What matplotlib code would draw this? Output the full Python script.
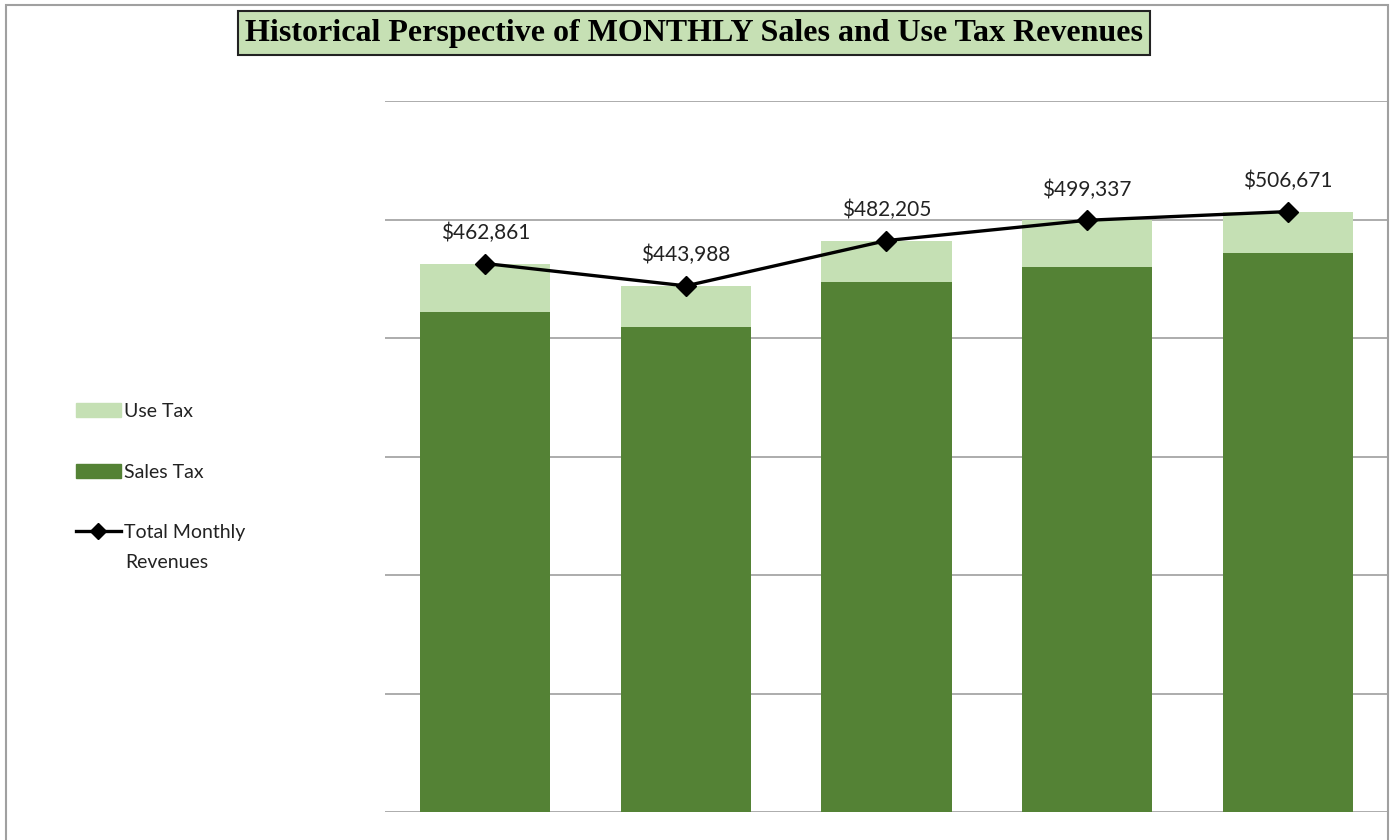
import matplotlib
matplotlib.use('Agg')
import matplotlib.pyplot as plt
from matplotlib.patches import Rectangle, Patch
from matplotlib.lines import Line2D
import numpy as np

# values (dollars)
periods = ['P1', 'P2', 'P3', 'P4', 'P5']
sales_tax = [422000, 409300, 447300, 459900, 471700]
use_tax = [40861, 34688, 34905, 39437, 34971]
total_revenues = [462861, 443988, 482205, 499337, 506671]

SALES_COLOR = '#548235'
USE_COLOR = '#c5e0b4'
BODY_FONT = ['Lato', 'DejaVu Sans']

fig = plt.figure(figsize=(13.94, 8.40), dpi=100)
ax = fig.add_axes([385/1394, 28/840, 1003/1394, 711/840])

x = np.arange(len(periods))
ax.bar(x, sales_tax, 0.65, color=SALES_COLOR, zorder=2)
ax.bar(x, use_tax, 0.65, bottom=sales_tax, color=USE_COLOR, zorder=2)
ax.plot(x, total_revenues, color='black', lw=2.4, marker='D', markersize=10, zorder=3)

for xi, val in zip(x, total_revenues):
    ax.annotate('${:,}'.format(val), (xi, val), xytext=(0, 22), textcoords='offset points',
                ha='center', va='center', fontsize=15, family=BODY_FONT, color='#222222')

ax.set_xlim(-0.5, 4.5)
ax.set_ylim(0, 600000)
ax.set_yticks(np.arange(0, 600001, 100000))
ax.yaxis.grid(True, color='#a6a6a6', lw=1.3, zorder=0)
ax.set_axisbelow(True)
ax.tick_params(left=False, bottom=False, labelleft=False, labelbottom=False)
for s in ax.spines.values():
    s.set_visible(False)

# outer chart frame
fig.patches.append(Rectangle((6/1394, -0.02), 1382/1394, 1.02 - 5/840, transform=fig.transFigure,
                             fill=False, edgecolor='#a0a0a0', lw=1.5))

# title in green box
fig.text(0.498, 1 - 33/840, 'Historical Perspective of MONTHLY Sales and Use Tax Revenues',
         ha='center', va='center', fontsize=23, fontweight='bold', family='Liberation Serif',
         bbox=dict(boxstyle='square,pad=0.22', facecolor='#c6e0b4', edgecolor='#222222', lw=1.5))

handles = [Patch(color=USE_COLOR), Patch(color=SALES_COLOR),
           Line2D([], [], color='black', lw=2.4, marker='D', markersize=8)]
labels = ['Use Tax', 'Sales Tax', 'Total Monthly']
leg = fig.legend(handles, labels, loc='center left', bbox_to_anchor=(76/1394, 1 - 472/840),
                 frameon=False, prop={'family': BODY_FONT, 'size': 14},
                 handlelength=2.3, handletextpad=0.15, labelspacing=2.25, borderaxespad=0,
                 borderpad=0)
for t in leg.get_texts():
    t.set_color('#222222')
fig.text(125/1394, 1 - 562/840, 'Revenues', ha='left', va='center', fontsize=14,
         family=BODY_FONT, color='#222222')

plt.savefig('out.png', dpi=100)
